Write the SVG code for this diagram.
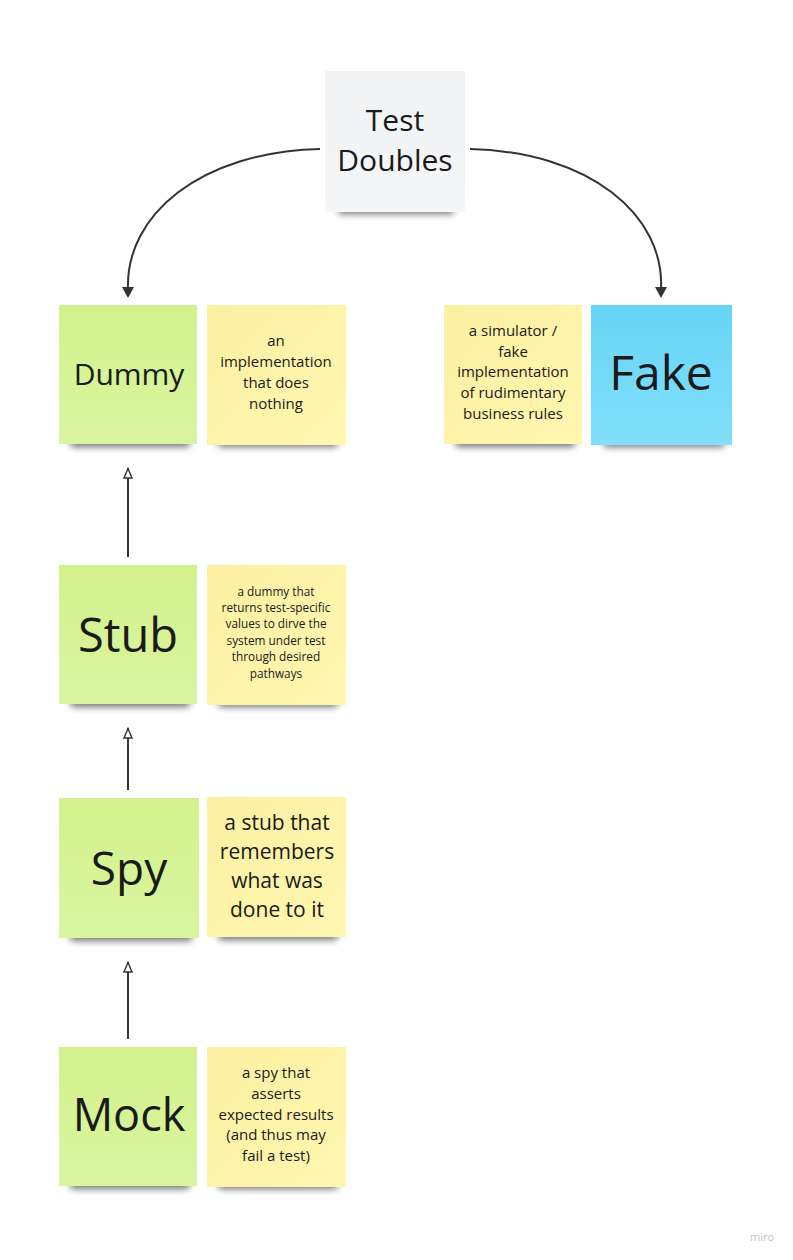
<svg xmlns="http://www.w3.org/2000/svg" width="793" height="1260" viewBox="0 0 793 1260">
<defs>
<linearGradient id="gGreen" x1="0" y1="0" x2="0" y2="1"><stop offset="0" stop-color="#d2f18c"/><stop offset="1" stop-color="#daf5a0"/></linearGradient>
<linearGradient id="gYellow" x1="0" y1="0" x2="1" y2="1"><stop offset="0" stop-color="#fbf0a2"/><stop offset="1" stop-color="#fff6b0"/></linearGradient>
<linearGradient id="gBlue" x1="0" y1="0" x2="0" y2="1"><stop offset="0" stop-color="#67d5f6"/><stop offset="1" stop-color="#80dffa"/></linearGradient>
<linearGradient id="gGray" x1="0" y1="0" x2="0" y2="1"><stop offset="0" stop-color="#f1f2f4"/><stop offset="1" stop-color="#f5f6f8"/></linearGradient>
<filter id="sh" x="-20%" y="-100%" width="140%" height="300%"><feGaussianBlur stdDeviation="3.5"/></filter>
<marker id="open" viewBox="0 0 12 12" refX="6" refY="1" markerWidth="12" markerHeight="12" markerUnits="userSpaceOnUse" orient="0"><path d="M2,11 L6,1.5 L10,11 Z" fill="#fff" stroke="#333" stroke-width="1.4"/></marker>
<style>
.t{font-family:"Open Sans","Noto Sans","Liberation Sans",sans-serif;fill:#1a1a1a;text-anchor:middle}
.sh{fill:#000;opacity:0.55;filter:url(#sh)}
.c{fill:none;stroke:#333;stroke-width:2}
</style>
</defs>
<rect width="793" height="1260" fill="#fff"/>

<g id="connectors">
<path class="c" d="M320,149 C200,152 125,215 128,290"/>
<polygon points="122,287 134,287 128,298" fill="#333"/>
<path class="c" d="M470,149 C590,152 665,215 661,290"/>
<polygon points="655,287 667,287 661,298" fill="#333"/>
<line class="c" x1="128" y1="557" x2="128" y2="468" marker-end="url(#open)"/>
<line class="c" x1="128" y1="790" x2="128" y2="728" marker-end="url(#open)"/>
<line class="c" x1="128" y1="1039" x2="128" y2="962" marker-end="url(#open)"/>
</g>

<g id="test-doubles">
<rect class="sh" x="338" y="204" width="116" height="10" rx="4"/>
<rect x="325" y="71" width="140" height="141" fill="url(#gGray)"/>
<text class="t" font-size="30" x="395" y="131">Test</text>
<text class="t" font-size="30" x="395" y="171">Doubles</text>
</g>

<g id="dummy">
<rect class="sh" x="70" y="437" width="120" height="10" rx="4"/>
<rect x="59" y="305" width="138" height="139" fill="url(#gGreen)"/>
<text class="t" font-size="30" x="129" y="385">Dummy</text>
</g>
<g id="dummy-note">
<rect class="sh" x="218" y="437" width="120" height="10" rx="4"/>
<rect x="207" y="305" width="139" height="140" fill="url(#gYellow)"/>
<text class="t" font-size="15" x="276"><tspan x="276" y="346">an</tspan><tspan x="276" y="367">implementation</tspan><tspan x="276" y="388">that does</tspan><tspan x="276" y="409">nothing</tspan></text>
</g>

<g id="fake-note">
<rect class="sh" x="455" y="437" width="120" height="10" rx="4"/>
<rect x="444" y="305" width="138" height="139" fill="url(#gYellow)"/>
<text class="t" font-size="15" x="513"><tspan x="513" y="336">a simulator /</tspan><tspan x="513" y="357">fake</tspan><tspan x="513" y="377">implementation</tspan><tspan x="513" y="398">of rudimentary</tspan><tspan x="513" y="419">business rules</tspan></text>
</g>
<g id="fake">
<rect class="sh" x="603" y="437" width="122" height="10" rx="4"/>
<rect x="591" y="305" width="141" height="140" fill="url(#gBlue)"/>
<text class="t" font-size="48" x="661" y="390">Fake</text>
</g>

<g id="stub">
<rect class="sh" x="70" y="697" width="120" height="10" rx="4"/>
<rect x="59" y="565" width="138" height="139" fill="url(#gGreen)"/>
<text class="t" font-size="47" x="128" y="652">Stub</text>
</g>
<g id="stub-note">
<rect class="sh" x="218" y="697" width="120" height="10" rx="4"/>
<rect x="207" y="565" width="139" height="140" fill="url(#gYellow)"/>
<text class="t" font-size="11.8" x="276"><tspan x="276" y="596">a dummy that</tspan><tspan x="276" y="612">returns test-specific</tspan><tspan x="276" y="628">values to dirve the</tspan><tspan x="276" y="645">system under test</tspan><tspan x="276" y="661">through desired</tspan><tspan x="276" y="678">pathways</tspan></text>
</g>

<g id="spy">
<rect class="sh" x="70" y="931" width="122" height="10" rx="4"/>
<rect x="59" y="798" width="140" height="140" fill="url(#gGreen)"/>
<text class="t" font-size="46" x="129" y="885">Spy</text>
</g>
<g id="spy-note">
<rect class="sh" x="218" y="930" width="120" height="10" rx="4"/>
<rect x="207" y="797" width="139" height="140" fill="url(#gYellow)"/>
<text class="t" font-size="21" x="277"><tspan x="277" y="830">a stub that</tspan><tspan x="277" y="859">remembers</tspan><tspan x="277" y="888">what was</tspan><tspan x="277" y="917">done to it</tspan></text>
</g>

<g id="mock">
<rect class="sh" x="70" y="1179" width="120" height="10" rx="4"/>
<rect x="59" y="1047" width="138" height="139" fill="url(#gGreen)"/>
<text class="t" font-size="45" x="129" y="1131">Mock</text>
</g>
<g id="mock-note">
<rect class="sh" x="218" y="1179" width="120" height="10" rx="4"/>
<rect x="207" y="1047" width="139" height="140" fill="url(#gYellow)"/>
<text class="t" font-size="15" x="276"><tspan x="276" y="1078">a spy that</tspan><tspan x="276" y="1099">asserts</tspan><tspan x="276" y="1120">expected results</tspan><tspan x="276" y="1140">(and thus may</tspan><tspan x="276" y="1161">fail a test)</tspan></text>
</g>

<text x="762" y="1241" font-family="'Open Sans','Liberation Sans',sans-serif" font-size="11" fill="#c4c4cc" text-anchor="middle">miro</text>
</svg>
